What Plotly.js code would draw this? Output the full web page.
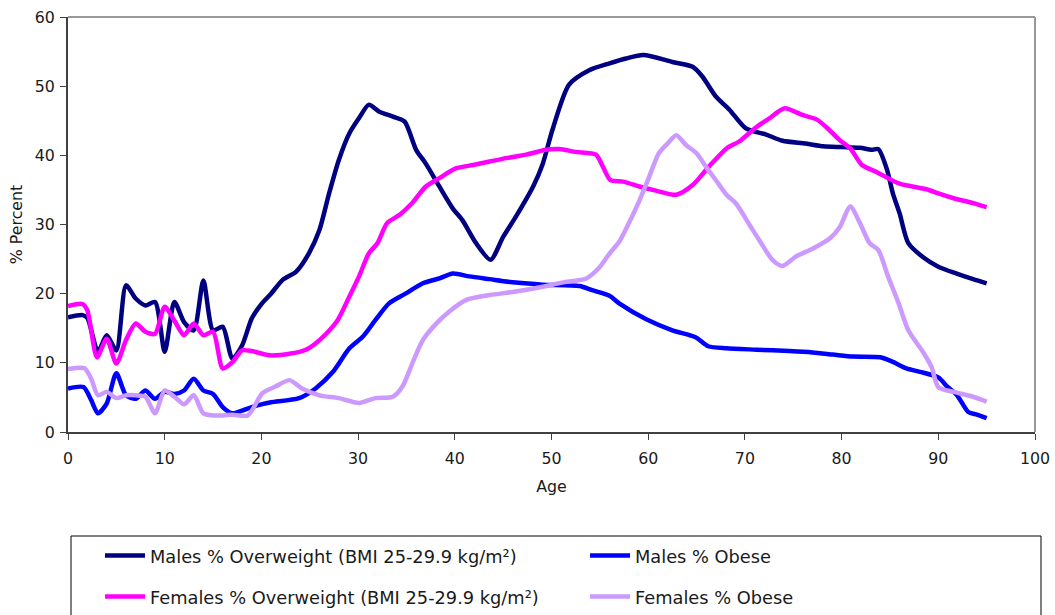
<!DOCTYPE html>
<html>
<head>
<meta charset="utf-8">
<script src="https://cdn.plot.ly/plotly-3.0.1.min.js"></script>
<style>
  html, body { margin: 0; padding: 0; background: #fff; }
  #chart { width: 1055px; height: 615px; }
</style>
</head>
<body>
<div id="chart"></div>
<script>
// Overweight / obesity by age.

const maleOwAge = [0, 1.5, 2, 3.1, 4, 5, 6, 7, 8, 9, 10, 11, 12, 13, 14, 15, 16, 17, 18, 19,
  20, 21, 22.2, 23.6, 24.9, 26, 27, 28, 29.1, 30.1, 31.1, 32.2, 33.6, 34.8, 36, 37, 38.4,
  39.8, 40.8, 42.2, 43.7, 45, 46.3, 48.1, 49.1, 50.1, 51.8, 53.9, 56, 57.7, 59.5, 62.5,
  64.6, 65.6, 67, 68.4, 70.1, 72.2, 73.9, 76.3, 78.1, 80, 81.9, 83.1, 83.8, 84.7, 85.3,
  86, 86.9, 88.4, 90, 91.9, 93.6, 95];
const maleOw = [16.6, 16.9, 16.5, 11.6, 14.0, 11.8, 21.2, 19.3, 18.3, 18.8, 11.6, 18.8,
  15.9, 14.7, 21.9, 14.7, 15.2, 10.6, 12.5, 16.4, 18.5, 20.0, 22.0, 23.2, 25.8, 29.2,
  34.5, 39.3, 43.2, 45.4, 47.3, 46.3, 45.6, 44.9, 40.8, 38.8, 35.5, 32.3, 30.6, 27.3,
  24.9, 28.2, 31.1, 35.5, 38.8, 43.7, 50.2, 52.3, 53.3, 54.0, 54.5, 53.5, 52.8, 51.4,
  48.5, 46.6, 43.9, 43.0, 42.1, 41.7, 41.3, 41.2, 41.1, 40.8, 40.9, 37.9, 34.5, 31.6,
  27.3, 25.3, 23.9, 22.9, 22.1, 21.5];

const maleObAge = [0, 1.6, 2.4, 3.1, 4, 5, 6, 7, 8, 9, 10, 11, 12, 13, 14, 15, 16, 17, 18,
  19, 20, 21, 23.9, 25.6, 27.4, 29.1, 30.5, 31.8, 33.2, 34.9, 36.7, 38.4, 39.8, 41.5,
  43.6, 46.3, 49.1, 52.9, 54.2, 56, 57, 59.8, 62.5, 64.9, 66.2, 68.1, 71.2, 74.6, 77,
  79.1, 81.2, 84, 85.2, 86.7, 88.1, 90, 90.9, 91.9, 93.1, 94, 95];
const maleOb = [6.3, 6.5, 4.6, 2.7, 4.1, 8.5, 5.3, 4.8, 6.0, 4.8, 5.8, 5.5, 6.0, 7.7, 6.0,
  5.5, 3.6, 2.7, 3.1, 3.6, 4.0, 4.3, 4.9, 6.3, 8.7, 12.1, 13.8, 16.2, 18.6, 20.0, 21.5,
  22.2, 22.9, 22.5, 22.1, 21.6, 21.3, 21.1, 20.5, 19.7, 18.6, 16.3, 14.7, 13.7, 12.4,
  12.1, 11.9, 11.7, 11.5, 11.2, 10.9, 10.8, 10.2, 9.2, 8.7, 7.9, 6.6, 5.4, 2.9, 2.5, 2.0];

const femaleOwAge = [0, 1.5, 2, 3, 4, 5, 6, 7, 8, 9, 10, 11, 12, 13, 14, 15, 16, 17, 18,
  19, 20.8, 22.9, 24.6, 25.6, 26.7, 27.9, 29.1, 30.1, 31.1, 32, 33, 34.3, 35.6, 37,
  38.4, 40.1, 41.9, 43.6, 45.3, 47.4, 49.4, 50.8, 52.5, 54.6, 55.3, 56.1, 57.4, 59.1,
  60.8, 62.9, 64.6, 66.3, 68.1, 69.4, 71.2, 72.5, 74.1, 76, 77.4, 78.4, 79.8, 80.9,
  82.1, 83.6, 86, 88.8, 90, 91.6, 93.6, 95];
const femaleOw = [18.2, 18.5, 17.6, 10.8, 13.5, 9.9, 13.3, 15.7, 14.5, 14.2, 18.1, 16.1,
  14.0, 15.7, 14.0, 14.5, 9.2, 10.1, 11.8, 11.7, 11.1, 11.3, 11.9, 12.8, 14.2, 16.2,
  19.6, 22.5, 25.8, 27.3, 30.2, 31.4, 33.1, 35.5, 36.7, 38.1, 38.6, 39.1, 39.6, 40.1,
  40.8, 40.9, 40.5, 40.1, 38.4, 36.4, 36.2, 35.5, 34.9, 34.3, 35.7, 38.4, 41.0, 42.0,
  44.1, 45.3, 46.8, 45.8, 45.2, 44.1, 42.2, 41.0, 38.6, 37.6, 35.9, 35.1, 34.5, 33.8,
  33.1, 32.5];

const femaleObAge = [0, 1.7, 2.4, 3.1, 4, 5, 6, 7, 8, 9, 10, 11, 12, 13, 14, 15, 16, 17,
  18.6, 20.1, 21.5, 22.9, 24.2, 26, 28, 30.1, 31.8, 33.6, 34.6, 35.6, 36.7, 38.1, 39.4,
  41.2, 43.6, 46.3, 49.1, 51.1, 53.6, 54.9, 56, 57, 58, 59.1, 60.1, 61.1, 62, 62.9,
  63.9, 65, 66, 67, 68.1, 69.1, 70.5, 71.5, 72.9, 73.9, 75.3, 77, 78.8, 79.8, 80.9,
  81.9, 82.9, 83.8, 84.8, 85.9, 86.9, 88.4, 89.3, 90, 91.6, 93.6, 95];
const femaleOb = [9.1, 9.2, 7.7, 5.3, 5.8, 4.9, 5.3, 5.3, 5.1, 2.7, 6.0, 5.1, 4.0, 5.3,
  2.7, 2.4, 2.4, 2.5, 2.4, 5.6, 6.6, 7.5, 6.3, 5.3, 4.9, 4.2, 4.9, 5.1, 6.6, 9.9, 13.3,
  15.7, 17.4, 19.1, 19.8, 20.3, 21.0, 21.6, 22.2, 23.7, 25.8, 27.5, 30.2, 33.5, 36.9,
  40.3, 41.7, 42.9, 41.5, 40.3, 38.3, 36.4, 34.3, 33.0, 29.9, 27.7, 24.8, 24.0, 25.4,
  26.5, 28.0, 29.6, 32.6, 30.2, 27.3, 26.3, 22.5, 18.6, 14.7, 11.6, 9.4, 6.5, 5.8, 5.1,
  4.4];

const FONT = "DejaVu Sans, Verdana, sans-serif";
const TEXT = "#1a1a1a";
const AXIS_LINE = "#404040";
const FRAME = "#999999";

// plot area in pixels: x 68..1035, y 17..432
const PLOT_L = 68, PLOT_R = 1035, PLOT_T = 17, PLOT_B = 432;
const px = (x) => (x - PLOT_L) / (PLOT_R - PLOT_L);
const py = (y) => (PLOT_B - y) / (PLOT_B - PLOT_T);

function line(name, x, y, color, legend) {
  return {
    x: x,
    y: y,
    name: name,
    type: "scatter",
    mode: "lines",
    line: { color: color, width: 4.5, shape: "spline", smoothing: 0.7 },
    legend: legend,
  };
}

const traces = [
  line("Males % Overweight (BMI 25-29.9 kg/m²)", maleOwAge, maleOw, "#000080", "legend"),
  line("Males % Obese", maleObAge, maleOb, "#0000FF", "legend2"),
  line("Females % Overweight (BMI 25-29.9 kg/m²)", femaleOwAge, femaleOw, "#FF00FF", "legend3"),
  line("Females % Obese", femaleObAge, femaleOb, "#CC99FF", "legend4"),
];

// one legend per entry so each can sit where the original puts it
function legendAt(xPx, yPx) {
  return {
    orientation: "h",
    xanchor: "left",
    yanchor: "middle",
    x: px(xPx),
    y: py(yPx),
    itemwidth: 40,
    bgcolor: "rgba(0,0,0,0)",
    font: { family: FONT, size: 17.8, color: TEXT },
  };
}

const tickFont = { family: FONT, size: 15.8, color: TEXT };

const layout = {
  width: 1055,
  height: 615,
  paper_bgcolor: "#fff",
  plot_bgcolor: "#fff",
  font: { family: FONT, size: 16, color: TEXT },
  margin: { l: PLOT_L, r: 1055 - PLOT_R, t: PLOT_T, b: 615 - PLOT_B, pad: 0, autoexpand: false },
  xaxis: {
    range: [0, 100],
    tickvals: [0, 10, 20, 30, 40, 50, 60, 70, 80, 90, 100],
    showgrid: false,
    zeroline: false,
    showline: true,
    linecolor: AXIS_LINE,
    linewidth: 2,
    ticks: "outside",
    ticklen: 6,
    tickcolor: AXIS_LINE,
    ticklabelstandoff: 5,
    tickfont: tickFont,
    title: { text: "Age", font: tickFont, standoff: 14 },
    fixedrange: true,
  },
  yaxis: {
    range: [0, 60],
    tickvals: [0, 10, 20, 30, 40, 50, 60],
    showgrid: false,
    zeroline: false,
    showline: true,
    linecolor: AXIS_LINE,
    linewidth: 2,
    ticks: "outside",
    ticklen: 6,
    tickcolor: AXIS_LINE,
    ticklabelstandoff: 2,
    tickfont: tickFont,
    title: { text: "% Percent", font: tickFont, standoff: 8 },
    fixedrange: true,
  },
  shapes: [
    // top and right edges of the plot frame
    { type: "line", xref: "paper", yref: "paper", x0: 0, x1: 1, y0: 1, y1: 1,
      line: { color: FRAME, width: 2 } },
    { type: "line", xref: "paper", yref: "paper", x0: 1, x1: 1, y0: 0, y1: 1,
      line: { color: FRAME, width: 2 } },
    // legend box
    { type: "rect", xref: "paper", yref: "paper",
      x0: px(71), x1: px(1041), y0: py(536), y1: py(640),
      line: { color: "#000", width: 1 } },
  ],
  legend: legendAt(100, 556),
  legend2: legendAt(585, 556),
  legend3: legendAt(100, 597),
  legend4: legendAt(585, 597),
  showlegend: true,
};

Plotly.newPlot("chart", traces, layout, { displayModeBar: false, staticPlot: true });
</script>
</body>
</html>
